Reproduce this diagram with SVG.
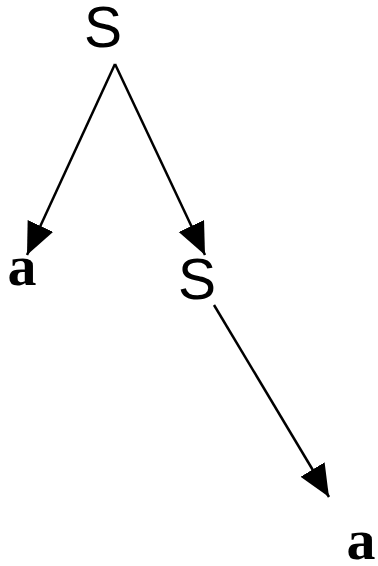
<svg xmlns="http://www.w3.org/2000/svg" width="378" height="566" viewBox="0 0 378 566">
<style>
.s{font-family:"Liberation Sans",Arial,sans-serif;font-size:57px;fill:#000;text-anchor:middle}
.a{font-family:"Liberation Serif","Times New Roman",serif;font-size:58px;font-weight:bold;fill:#000;text-anchor:middle}
.e{stroke:#000;stroke-width:2.5;fill:none;marker-end:url(#ah)}
</style>
<defs>
<marker id="ah" markerUnits="userSpaceOnUse" markerWidth="34" markerHeight="30" refX="32" refY="14" orient="auto">
<path d="M0,0 L32,14 L0,28 Z" fill="#000"/>
</marker>
</defs>
<rect width="378" height="566" fill="#fff"/>
<g id="edges">
<line class="e" x1="115" y1="64" x2="27" y2="255"/>
<line class="e" x1="115" y1="64" x2="205" y2="255"/>
<line class="e" x1="214" y1="305" x2="329" y2="497"/>
</g>
<g id="n1"><text class="s" x="103" y="47">S</text></g>
<g id="n2"><text class="a" x="22" y="285">a</text></g>
<g id="n3"><text class="s" x="197" y="299">S</text></g>
<g id="n4"><text class="a" x="361" y="559">a</text></g>
</svg>
